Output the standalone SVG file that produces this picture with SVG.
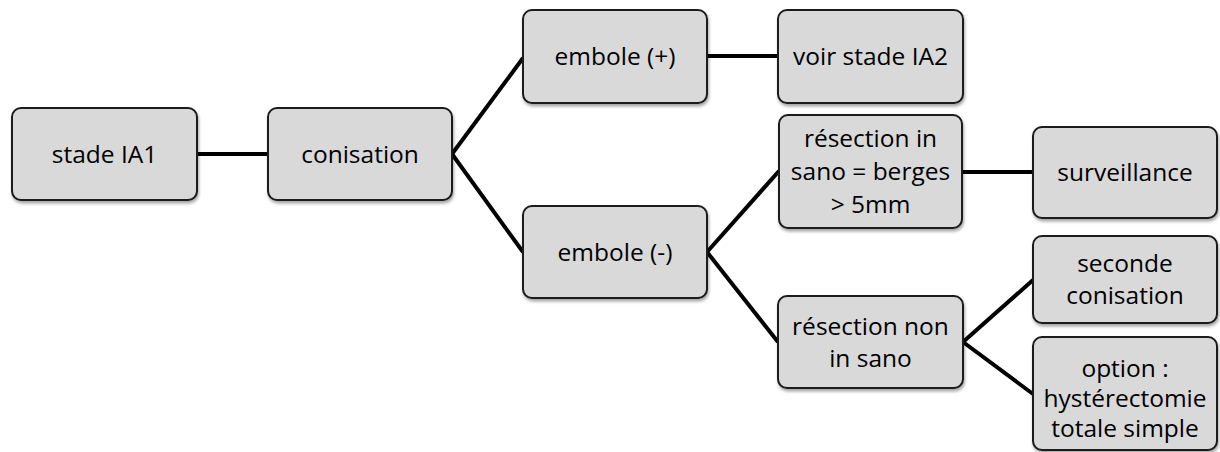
<svg xmlns="http://www.w3.org/2000/svg" width="1220" height="452" viewBox="0 0 1220 452">
<defs>
<filter id="sh" x="-10%" y="-10%" width="120%" height="130%">
<feDropShadow dx="1" dy="2.5" stdDeviation="1.5" flood-color="#000" flood-opacity="0.35"/>
</filter>
</defs>
<style>
.box{fill:#d9d9d9;stroke:#1a1a1a;stroke-width:2;filter:url(#sh)}
.t{font-family:"Open Sans","Liberation Sans",sans-serif;font-size:24.5px;fill:#000;text-anchor:middle}
.c{stroke:#000;stroke-width:4;fill:none}
</style>
<rect width="1220" height="452" fill="#fff"/>
<g id="connectors">
<line class="c" x1="197" y1="154" x2="268" y2="154"/>
<line class="c" x1="452" y1="154" x2="523" y2="58"/>
<line class="c" x1="452" y1="154" x2="523" y2="252"/>
<line class="c" x1="707" y1="56" x2="778" y2="56"/>
<line class="c" x1="707" y1="252" x2="779" y2="171"/>
<line class="c" x1="707" y1="252" x2="778" y2="342"/>
<line class="c" x1="962" y1="172" x2="1033" y2="172"/>
<line class="c" x1="963" y1="342" x2="1033" y2="280"/>
<line class="c" x1="963" y1="342" x2="1033" y2="394"/>
</g>
<g id="n1"><rect class="box" x="12" y="108" width="185" height="92" rx="9"/><text class="t" x="104.5" y="163">stade IA1</text></g>
<g id="n2"><rect class="box" x="268" y="108" width="184" height="92" rx="9"/><text class="t" x="360" y="163">conisation</text></g>
<g id="n3"><rect class="box" x="523" y="10" width="184" height="93" rx="9"/><text class="t" x="615" y="65">embole (+)</text></g>
<g id="n4"><rect class="box" x="778" y="10" width="185" height="93" rx="9"/><text class="t" x="870.5" y="65">voir stade IA2</text></g>
<g id="n5"><rect class="box" x="523" y="206" width="184" height="92" rx="9"/><text class="t" x="615" y="261">embole (-)</text></g>
<g id="n6"><rect class="box" x="779" y="115" width="183" height="113" rx="9"/><text class="t" x="870.5" y="147">résection in</text><text class="t" x="870.5" y="180">sano = berges</text><text class="t" x="870.5" y="213">&gt; 5mm</text></g>
<g id="n7"><rect class="box" x="1033" y="127" width="184" height="91" rx="9"/><text class="t" x="1125" y="181">surveillance</text></g>
<g id="n8"><rect class="box" x="778" y="296" width="185" height="92" rx="9"/><text class="t" x="870.5" y="335">résection non</text><text class="t" x="870.5" y="367">in sano</text></g>
<g id="n9"><rect class="box" x="1033" y="236" width="184" height="87" rx="9"/><text class="t" x="1125" y="272">seconde</text><text class="t" x="1125" y="304">conisation</text></g>
<g id="n10"><rect class="box" x="1033" y="337" width="184" height="113" rx="9"/><text class="t" x="1125" y="377">option :</text><text class="t" x="1125" y="407">hystérectomie</text><text class="t" x="1125" y="437">totale simple</text></g>
</svg>
